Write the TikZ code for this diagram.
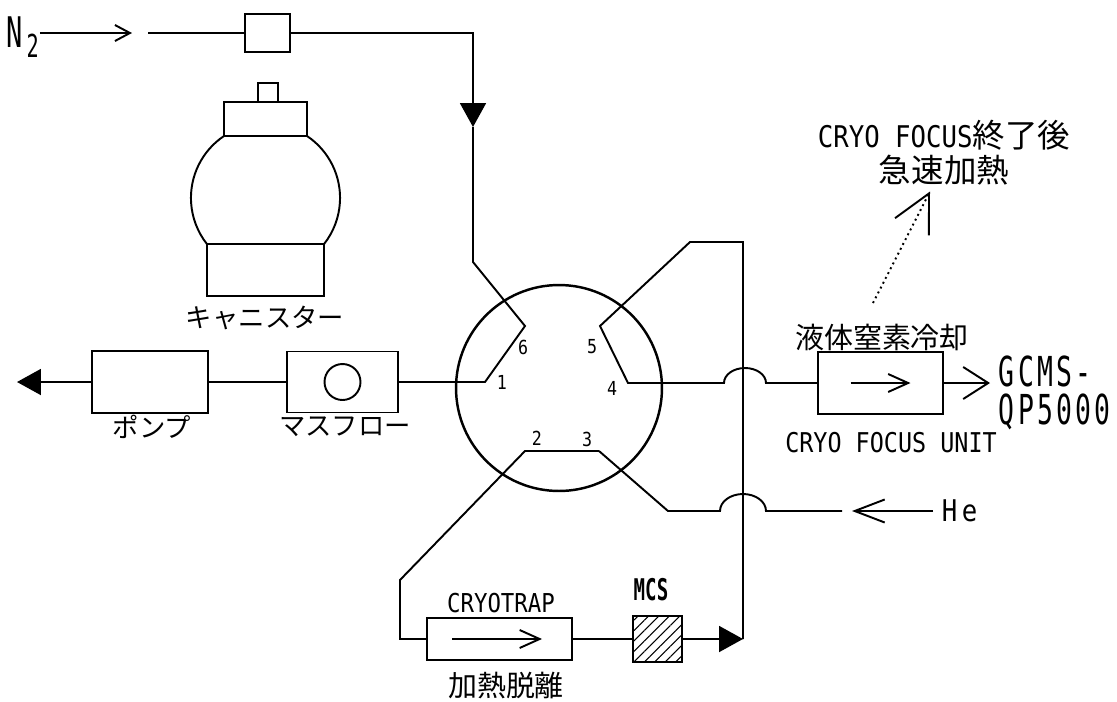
\documentclass[tikz,border=0pt]{standalone}
\usepackage{fontspec}
\setmainfont{Noto Sans CJK JP}
\newfontfamily\lat[FakeStretch=0.86]{DejaVu Sans Mono}
\newfontfamily\latn[FakeStretch=0.64]{DejaVu Sans Mono}
\usetikzlibrary{arrows.meta,patterns.meta}

\begin{document}
\begin{tikzpicture}[
  x=0.02cm, y=0.02cm, line width=1.1pt,
  box/.style={draw, rectangle, inner sep=0pt},
  port/.style={font=\fontsize{11}{11}\lat, inner sep=0pt},
  jp/.style={font=\fontsize{15}{15}\selectfont, inner sep=0pt},
  jpbig/.style={font=\fontsize{16.5}{16.5}\selectfont, inner sep=0pt},
  lab/.style={font=\fontsize{15.5}{15.5}\lat, inner sep=0pt},
  feed/.style={-{Straight Barb[length=3mm,width=3.2mm]}},
  outlet/.style={-{Straight Barb[length=5mm,width=6.4mm]}},
  carrier/.style={-{Straight Barb[length=6mm,width=4.6mm]}},
  inner/.style={-{Straight Barb[length=4mm,width=3.6mm]}},
  callout/.style={dotted, -{Straight Barb[length=7.5mm,width=7.6mm]}},
  flow/.style={-{Triangle[length=4.8mm,width=5.2mm]}},
]
  \useasboundingbox (0,0) rectangle (1117,-701);

  % Canister
  \draw (258,-83) rectangle (278,-102);
  \draw (224,-102) rectangle (307,-136);
  \draw (224,-136) arc[start angle=123.8, end angle=218.2, radius=74.5];
  \draw (307,-136) arc[start angle=56.2, end angle=-38.2, radius=74.5];
  \draw (207,-244) rectangle (324,-296);
  \node[jp] (canlab) at (265,-318) {キャニスター};

  % Boxes
  \node[box, minimum width=0.9cm, minimum height=0.76cm] (reg) at (267.5,-33) {};
  \node[box, minimum width=2.32cm, minimum height=1.24cm] (pump) at (150,-382) {};
  \node[box, minimum width=2.22cm, minimum height=1.22cm] (mfc) at (342.5,-382) {};
  \node[draw, circle, minimum size=0.72cm, inner sep=0pt] (mfcdial) at (mfc) {};
  \node[box, minimum width=2.5cm, minimum height=1.24cm] (cfu) at (880.5,-383) {};
  \node[box, minimum width=2.9cm, minimum height=0.84cm] (ctrap) at (499.5,-639) {};
  \node[box, minimum width=0.98cm, minimum height=0.92cm,
        pattern={Lines[angle=45,distance=4.2pt,line width=0.6pt]}] (mcs) at (657.5,-639) {};

  % Six-port valve
  \node[draw, circle, line width=1.4pt, minimum size=4.12cm, inner sep=0pt] (valve) at (559,-388) {};
  \coordinate (p1) at (485,-382);
  \coordinate (p6) at (525,-326);
  \coordinate (p5) at (600,-326);
  \coordinate (p4) at (628,-383);
  \coordinate (p2) at (525,-451);
  \coordinate (p3) at (599,-451);
  \node[port] at (502,-382) {1};
  \node[port] at (537,-438) {2};
  \node[port] at (587,-439) {3};
  \node[port] at (612,-388) {4};
  \node[port] at (592,-347) {5};
  \node[port] at (523,-347) {6};

  % Labels
  \node[anchor=base west, inner sep=0pt, font=\fontsize{24}{24}\latn] (n2) at (6,-47)
    {N\hspace{2pt}\raisebox{-5.7pt}{\fontsize{18}{18}\latn 2}};
  \node[jp] (pumplab) at (152,-427) {ポンプ};
  \node[jp] (mfclab) at (345,-427) {マスフロー};
  \node[jpbig] (cfutop) at (882,-337) {液体窒素冷却};
  \node[lab] (cfulab) at (891,-443) {CRYO FOCUS UNIT};
  \node[font=\fontsize{14.8}{14.8}\lat, inner sep=0pt] (ctraplab) at (501,-603) {CRYOTRAP};
  \node[jpbig] (ctrapbot) at (506,-685) {加熱脱離};
  \node[font=\fontsize{17}{17}\latn\bfseries, inner sep=0pt] (mcslab) at (651,-590) {MCS};
  \node[anchor=base west, inner sep=0pt, font=\fontsize{23.5}{23.5}\latn] (gcms) at (998,-386)
    {G\kern1.8pt C\kern1.8pt M\kern1.8pt S\kern1.8pt -};
  \node[anchor=base west, inner sep=0pt, font=\fontsize{23.5}{23.5}\latn] (qp) at (998,-424)
    {Q\kern1.8pt P\kern1.8pt 5\kern1.8pt 0\kern1.8pt 0\kern1.8pt 0};
  \node[anchor=west, inner sep=0pt, font=\fontsize{17}{17}\lat] (he) at (941,-511) {H\hspace{2.5pt}e};
  \node[align=center, inner sep=0pt, font=\fontsize{18.5}{20}\selectfont] (note) at (944,-153)
    {{\fontsize{17}{17}\lat CRYO FOCUS}終了後\\急速加熱};

  % Nitrogen purge line
  \coordinate (n2tip) at (132,-33);
  \coordinate (n2line) at (148,-33);
  \coordinate (n2drop) at (473,-127);
  \draw[feed] (n2tip -| n2.east) -- (n2tip);
  \draw (n2line) -- (reg.west);
  \draw[flow] (reg.east) -| (n2drop);
  \draw (n2drop) -- (473,-262) -- (p6) -- (p1) -- (mfc.east);
  \draw (mfc.west) -- (pump.east);
  \coordinate (exhaust) at (17,-382);
  \draw[flow] (pump.west) -- (exhaust);

  % Trap loop through the valve
  \draw (p3) -- (p2) -- (400,-580) |- (ctrap.west);
  \draw[inner] (ctrap.center) ++(-47.5,0) -- ++(90,0);
  \draw (ctrap.east) -- (mcs.west);
  \coordinate (loopend) at (743,-639);
  \draw[flow] (mcs.east) -- (loopend);
  \draw (loopend) |- (690,-242) -- (p5) -- (p4) -- (724,-383)
    arc[start angle=180, end angle=0, x radius=21, y radius=15] -- (cfu.west);

  % Cryo focus unit and outlet
  \draw[inner] (cfu.center) ++(-30,0) -- ++(60,0);
  \coordinate (gcmstip) at (990,-383);
  \draw[outlet] (cfu.east) -- (gcmstip);

  % Helium carrier gas
  \coordinate (heend) at (842,-511);
  \coordinate (hetip) at (852,-511);
  \draw (p3) -- (668,-511) -- (720,-511)
    arc[start angle=180, end angle=0, x radius=23, y radius=17] -- (heend);
  \draw[carrier] (he.west) ++(-8,0) -- (hetip);

  % Heating note
  \coordinate (notefoot) at (873,-303);
  \draw[callout] (notefoot) -- ([xshift=-0.28cm,yshift=-0.1cm]note.south);
\end{tikzpicture}
\end{document}
